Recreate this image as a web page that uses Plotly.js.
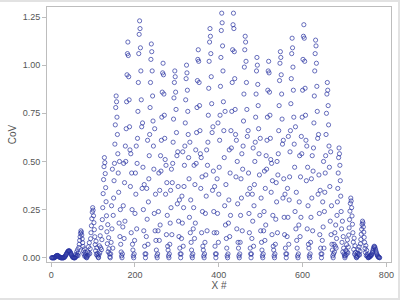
<!DOCTYPE html>
<html><head><meta charset="utf-8">
<script src="https://cdn.plot.ly/plotly-3.0.1.min.js"></script>
<style>
html,body{margin:0;padding:0;background:#fff;}
#wrap{position:relative;width:400px;height:300px;}
#chart{width:400px;height:300px;}
#frame{position:absolute;left:0;top:0;width:400px;height:300px;box-sizing:border-box;border:2px solid #e2e2e2;border-left:0;pointer-events:none;}
</style></head>
<body><div id="wrap"><div id="chart"></div><div id="frame"></div></div>
<script>
// CoV values, one array per block of 28 consecutive X # (X # 1..784)
const P00=[0,0,0,0,0,0,0,0,0.003,0.005,0.007,0.009,0.011,0.012,0.012,0.011,0.009,0.007,0.005,0.003,0.002,0.001,0,0,0,0,0,0];
const P01=[0,0,0.002,0.004,0.007,0.010,0.014,0.018,0.022,0.026,0.030,0.033,0.035,0.036,0.036,0.034,0.031,0.027,0.022,0.017,0.012,0.008,0.004,0.002,0.001,0,0,0];
const P02=[0,0.004,0.017,0.007,0.031,0.014,0.042,0.011,0.025,0.053,0.070,0.090,0.109,0.127,0.140,0.133,0.118,0.098,0.078,0.059,0.036,0.020,0.046,0.008,0.028,0.013,0.006,0.001];
const P03=[0,0.008,0.031,0.013,0.057,0.026,0.078,0.021,0.047,0.099,0.130,0.166,0.203,0.237,0.260,0.247,0.218,0.182,0.146,0.109,0.068,0.036,0.086,0.016,0.052,0.023,0.010,0.003];
const P04=[0,0.016,0.062,0.026,0.114,0.052,0.156,0.042,0.094,0.198,0.260,0.333,0.406,0.473,0.520,0.494,0.437,0.364,0.291,0.218,0.135,0.073,0.172,0.031,0.104,0.047,0.021,0.005];
const P05=[0,0.02,0.08,0.27,0.15,0.46,0.05,0.22,0.31,0.40,0.49,0.59,0.69,0.78,0.84,0.81,0.73,0.64,0.54,0.44,0.34,0.18,0.50,0.11,0.25,0.07,0.03,0.01];
const P06=[0,0.02,0.16,0.27,0.49,0.10,0.39,0.19,0.58,0.50,0.67,0.81,0.95,1.06,1.12,1.05,0.94,0.82,0.68,0.56,0.37,0.54,0.13,0.44,0.25,0.07,0.04,0.01];
const P07=[0,0.02,0.09,0.23,0.44,0.33,0.58,0.15,0.49,0.62,0.76,0.91,1.06,1.16,1.23,1.19,1.09,0.97,0.82,0.68,0.36,0.70,0.47,0.25,0.14,0.38,0.06,0.02];
const P08=[0,0.02,0.11,0.36,0.20,0.61,0.07,0.29,0.41,0.53,0.64,0.78,0.91,1.03,1.11,1.07,0.97,0.84,0.71,0.58,0.46,0.23,0.67,0.14,0.33,0.09,0.04,0.01];
const P09=[0,0.02,0.14,0.24,0.44,0.09,0.35,0.17,0.53,0.45,0.61,0.73,0.86,0.96,1.01,0.95,0.85,0.74,0.62,0.51,0.33,0.48,0.12,0.39,0.22,0.06,0.04,0.01];
const P10=[0,0.02,0.07,0.18,0.35,0.26,0.46,0.12,0.39,0.49,0.60,0.72,0.83,0.91,0.97,0.94,0.86,0.77,0.65,0.53,0.28,0.55,0.37,0.19,0.11,0.30,0.05,0.02];
const P11=[0,0.02,0.10,0.32,0.18,0.55,0.06,0.26,0.37,0.48,0.58,0.70,0.82,0.93,1.00,0.96,0.87,0.76,0.64,0.52,0.41,0.21,0.60,0.13,0.30,0.08,0.04,0.01];
const P12=[0,0.02,0.15,0.26,0.48,0.10,0.38,0.18,0.56,0.49,0.65,0.78,0.92,1.03,1.08,1.02,0.91,0.79,0.66,0.54,0.36,0.52,0.13,0.42,0.24,0.06,0.04,0.01];
const P13=[0,0.02,0.08,0.23,0.43,0.32,0.56,0.14,0.48,0.60,0.74,0.88,1.02,1.12,1.19,1.15,1.06,0.94,0.80,0.65,0.35,0.68,0.45,0.24,0.13,0.37,0.06,0.02];
const P14=[0,0.02,0.13,0.41,0.23,0.70,0.08,0.33,0.47,0.61,0.74,0.89,1.04,1.18,1.27,1.22,1.10,0.97,0.81,0.66,0.52,0.27,0.76,0.17,0.38,0.10,0.05,0.01];
const P15=[0,0.02,0.18,0.30,0.56,0.11,0.44,0.22,0.66,0.57,0.76,0.91,1.08,1.21,1.27,1.19,1.07,0.93,0.77,0.64,0.42,0.61,0.15,0.50,0.28,0.08,0.05,0.01];
const P16=[0,0.02,0.08,0.22,0.41,0.31,0.54,0.14,0.46,0.58,0.71,0.85,0.99,1.08,1.15,1.12,1.02,0.91,0.77,0.63,0.33,0.66,0.44,0.23,0.13,0.36,0.05,0.02];
const P17=[0,0.02,0.10,0.33,0.19,0.57,0.06,0.27,0.38,0.50,0.60,0.73,0.85,0.97,1.04,1.00,0.90,0.79,0.67,0.54,0.43,0.22,0.62,0.14,0.31,0.08,0.04,0.01];
const P18=[0,0.02,0.14,0.24,0.45,0.09,0.36,0.17,0.53,0.46,0.61,0.73,0.87,0.97,1.02,0.96,0.86,0.74,0.62,0.51,0.34,0.49,0.12,0.40,0.22,0.06,0.04,0.01];
const P19=[0,0.02,0.07,0.20,0.39,0.29,0.50,0.13,0.43,0.54,0.66,0.79,0.92,1.01,1.07,1.04,0.95,0.85,0.72,0.59,0.31,0.61,0.41,0.21,0.12,0.33,0.05,0.02];
const P20=[0,0.02,0.11,0.36,0.21,0.63,0.07,0.30,0.42,0.55,0.66,0.80,0.93,1.06,1.14,1.09,0.99,0.87,0.73,0.59,0.47,0.24,0.68,0.15,0.34,0.09,0.05,0.01];
const P21=[0,0.02,0.17,0.29,0.53,0.11,0.42,0.21,0.63,0.54,0.73,0.87,1.03,1.15,1.21,1.14,1.02,0.88,0.74,0.61,0.40,0.58,0.15,0.47,0.27,0.07,0.05,0.01];
const P22=[0,0.02,0.08,0.21,0.41,0.31,0.53,0.14,0.45,0.57,0.70,0.84,0.97,1.06,1.13,1.10,1.01,0.89,0.76,0.62,0.33,0.64,0.43,0.23,0.12,0.35,0.05,0.02];
const P23=[0,0.02,0.09,0.29,0.16,0.50,0.05,0.24,0.34,0.44,0.53,0.64,0.75,0.85,0.91,0.87,0.79,0.69,0.58,0.47,0.37,0.19,0.55,0.12,0.27,0.07,0.04,0.01];
const P24=[0,0.02,0.07,0.03,0.13,0.06,0.17,0.05,0.10,0.22,0.29,0.36,0.44,0.52,0.57,0.54,0.48,0.40,0.32,0.24,0.15,0.08,0.19,0.03,0.11,0.05,0.02,0.01];
const P25=[0,0.009,0.037,0.016,0.068,0.031,0.093,0.025,0.056,0.118,0.155,0.198,0.242,0.282,0.31,0.295,0.260,0.217,0.174,0.130,0.081,0.043,0.102,0.019,0.062,0.028,0.012,0.003];
const P26=[0,0.006,0.023,0.010,0.042,0.019,0.057,0.015,0.034,0.072,0.095,0.122,0.148,0.173,0.19,0.181,0.160,0.133,0.106,0.080,0.049,0.027,0.063,0.011,0.038,0.017,0.008,0.002];
const P27=[0,0.002,0.006,0.004,0.010,0.008,0.016,0.012,0.018,0.025,0.031,0.039,0.047,0.055,0.060,0.057,0.051,0.043,0.035,0.027,0.020,0.014,0.010,0.006,0.004,0.002,0.001,0];

const blocks=[P00,P01,P02,P03,P04,P05,P06,P07,P08,P09,P10,P11,P12,P13,P14,P15,P16,P17,P18,P19,P20,P21,P22,P23,P24,P25,P26,P27];
const blockSize=28;
const xTickVals=[0,200,400,600,800];
const yTickVals=[0,0.25,0.5,0.75,1.0,1.25];
const yTickText=['0.00','0.25','0.50','0.75','1.00','1.25'];

const xs=[], ys=[];
blocks.forEach((b,k)=>b.forEach((v,j)=>{xs.push(k*blockSize+j+1); ys.push(v);}));

const axisCommon={showgrid:false,zeroline:false,showline:true,mirror:true,linecolor:'#bdbdbd',linewidth:1,
  ticks:'outside',ticklen:4,tickcolor:'#bdbdbd',tickfont:{family:'Liberation Sans, Arial, sans-serif',size:9,color:'#555'}};

Plotly.newPlot('chart',[{
  type:'scatter',mode:'markers',x:xs,y:ys,
  marker:{symbol:'circle-open',size:4.2,color:'rgb(40,50,160)',line:{width:0.7}},
  hoverinfo:'skip'
}],{
  width:400,height:300,
  margin:{l:47,r:9,t:7,b:38},
  paper_bgcolor:'#fff',plot_bgcolor:'#fff',
  showlegend:false,
  xaxis:Object.assign({},axisCommon,{range:[-10,811],tickvals:xTickVals,
    title:{text:'X #',standoff:3,font:{family:'Liberation Sans, Arial, sans-serif',size:10,color:'#555'}}}),
  yaxis:Object.assign({},axisCommon,{range:[-0.022,1.302],tickvals:yTickVals,ticktext:yTickText,
    title:{text:'CoV',standoff:4,font:{family:'Liberation Sans, Arial, sans-serif',size:10,color:'#555'}}})
},{staticPlot:true});
</script></body></html>
